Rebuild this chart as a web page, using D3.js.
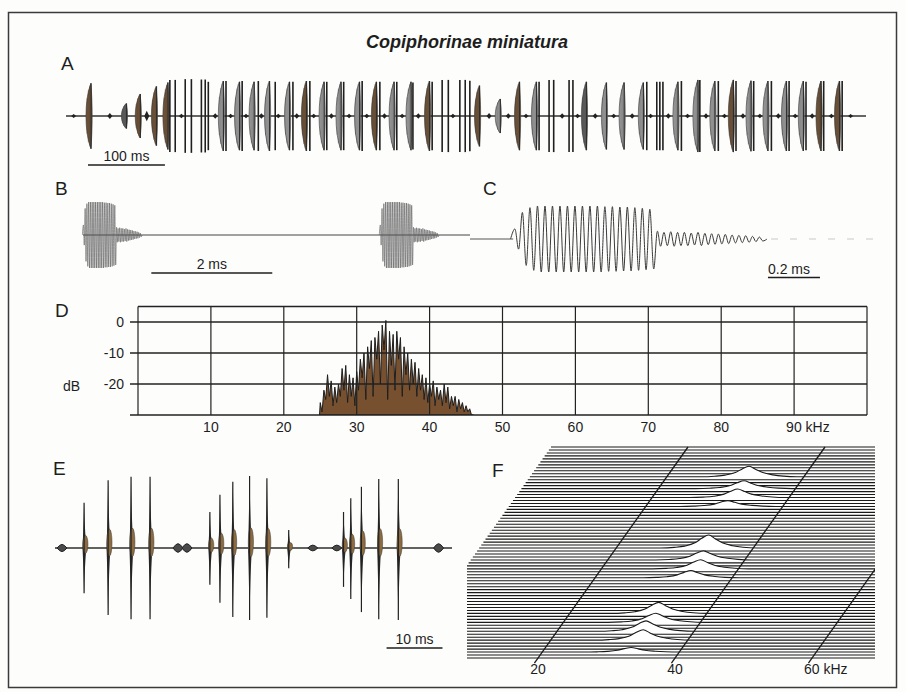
<!DOCTYPE html>
<html>
<head>
<meta charset="utf-8">
<script src="https://cdn.jsdelivr.net/npm/d3@7"></script>
<style>
  body { margin: 0; background: #fff; }
  text { font-family: "Liberation Sans", Arial, Helvetica, sans-serif; fill: #1e1e1e; }
</style>
</head>
<body>
<svg id="fig" width="906" height="692"></svg>
<script>
// ---------- A: song overview (syllables = lens-shaped pulse trains + single pulses), ms ----------
const aLensT   = [31, 77, 95, 116, 131, 203, 224, 243, 263, 289, 311, 334, 356, 380, 402, 425, 447, 471, 536, 563,
                  588, 610, 675, 701, 724, 749, 794, 820, 842, 866, 889, 911, 935, 957, 980, 1004];
const aLensAmp = [0.86, 0.33, 0.58, 0.78, 0.88, 0.92, 0.9, 0.9, 0.92, 0.9, 0.92, 0.9, 0.9, 0.9, 0.9, 0.9, 0.9, 0.92, 0.8, 0.45,
                  0.9, 0.9, 0.9, 0.88, 0.88, 0.88, 0.9, 0.95, 0.92, 0.95, 0.93, 0.92, 0.92, 0.92, 0.92, 0.92];
const aLensTint = ["b","k","b","b","b","g","g","g","g","g","b","g","g","g","b","g","g","b","b","g",
                   "b","g","k","g","g","g","g","g","g","b","g","g","g","g","b","b"];
const aLineT   = [135, 142, 155, 163, 176, 181, 185, 208, 229, 250, 272, 295, 317, 339, 361, 385, 408, 430, 451, 476,
                  489, 497, 512, 519, 525, 615, 628, 634, 654, 659, 755, 768, 772, 776, 800, 824, 848, 871, 894, 917,
                  940, 962, 985, 1009];
const aLineAmp = [0.95, 0.95, 0.97, 0.97, 0.96, 0.96, 0.9, 0.92, 0.92, 0.92, 0.9, 0.9, 0.92, 0.9, 0.9, 0.92, 0.9, 0.9, 0.88, 0.9,
                  0.95, 0.95, 0.95, 0.95, 0.93, 0.9, 0.95, 0.95, 0.95, 0.95, 0.9, 0.9, 0.9, 0.9, 0.92, 0.95, 0.92, 0.92, 0.92, 0.92,
                  0.92, 0.9, 0.92, 0.92];
const aBeadT   = [10, 57, 105, 150, 194, 214, 234, 254, 276, 300, 322, 345, 368, 391, 414, 437, 458, 503, 550, 575,
                  598, 645, 665, 688, 712, 736, 760, 783, 808, 832, 856, 880, 902, 926, 948, 970, 995, 1020];
const aBeadAmp = [0.05, 0.08, 0.14, 0.06, 0.07, 0.06, 0.06, 0.07, 0.06, 0.07, 0.06, 0.07, 0.06, 0.06, 0.07, 0.06, 0.07, 0.06, 0.08, 0.07,
                  0.06, 0.07, 0.06, 0.07, 0.06, 0.07, 0.06, 0.07, 0.06, 0.07, 0.06, 0.07, 0.06, 0.07, 0.06, 0.07, 0.06, 0.05];

// ---------- B / C: single pulse, one amplitude per carrier cycle ----------
const pulseMainAmp = [0.3, 0.8, 0.95, 1, 1, 1, 1, 1, 1, 1, 1, 1, 0.98, 0.98, 0.97, 0.97, 0.95, 0.93, 0.9];
const pulseTailAmp = [0.22, 0.2, 0.22, 0.2, 0.2, 0.18, 0.2, 0.17, 0.16, 0.15, 0.14, 0.12, 0.11, 0.1, 0.08, 0.06];
const mainPeriodMs = 0.0288;
const tailPeriodMs = 0.0262;
const bPulseStartMs = [0, 4.91];
const cPulseStartMs = 0.166;

// ---------- D: amplitude spectrum (dB) ----------
const specKHz  = [25, 25.5, 26, 26.5, 27, 27.5, 28, 28.5, 29, 29.5, 30, 30.5, 31, 31.5, 32, 32.5, 33, 33.5, 34, 34.5,
                  35, 35.5, 36, 36.5, 37, 37.5, 38, 38.5, 39, 39.5, 40, 40.5, 41, 41.5, 42, 42.5, 43, 43.5, 44, 44.5, 45, 45.5];
const specPeakDb  = [-26, -22, -17, -19, -21, -20, -15, -14, -17, -18, -16, -12, -10, -8, -6, -5, -3, -1, 0.5, -3,
                     -4, -3, -5, -8, -10, -12, -13, -15, -17, -18, -20, -19, -21, -22, -20, -21, -24, -24, -25, -26, -27, -28];
const specNotchDb = [-29, -25, -24, -27, -26, -24, -22, -26, -24, -27, -22, -18, -25, -15, -24, -12, -20, -9, -25, -14,
                     -22, -12, -24, -17, -22, -20, -24, -22, -25, -26, -24, -27, -25, -27, -26, -28, -27, -29, -28, -29, -29, -30];
const dTicksKHz = [10, 20, 30, 40, 50, 60, 70, 80, 90];
const dTicksDb  = [0, -10, -20];

// ---------- E: pulse groups (ms, relative amplitude up / down) ----------
const eT    = [5.2, 9.5, 13.6, 17.0, 27.7, 29.5, 31.8, 34.8, 37.9, 41.8, 51.6, 52.9, 54.8, 57.9, 61.4];
const eUp   = [0.63, 0.94, 0.99, 0.99, 0.5, 0.74, 0.92, 1.0, 0.97, 0.25, 0.5, 0.69, 0.85, 0.96, 0.96];
const eDown = [0.63, 0.93, 0.99, 0.99, 0.51, 0.76, 0.96, 1.0, 0.97, 0.28, 0.54, 0.71, 0.89, 0.99, 1.0];
const eBlobT   = [1.25, 22.0, 23.6, 46.1, 50.4, 68.6];
const eBlobAmp = [0.05, 0.06, 0.06, 0.04, 0.04, 0.06];

// ---------- F: waterfall of successive spectra ----------
const fRowCount = 72;
const fRowIdx   = [2, 6, 9, 12, 15, 27, 30, 33, 37, 51, 54, 57, 61];
const fPeakKHz  = [33, 33.5, 33, 33.5, 33, 34, 34.5, 34, 33.5, 32, 32.5, 32.5, 32];
const fPeakAmp  = [0.35, 0.8, 0.8, 0.7, 0.85, 0.55, 0.7, 0.7, 1.0, 0.45, 0.65, 0.6, 0.8];
const sliceOffsetKHz = [-7, -5, -3.5, -2, -1, 0, 1, 2, 3.5, 5, 7];
const sliceLevel     = [0, 0.05, 0.15, 0.4, 0.75, 1, 0.7, 0.4, 0.18, 0.06, 0];
const fTicksKHz = [20, 40, 60];

// =====================================================================
const svg = d3.select("#fig");
const defs = svg.append("defs");
svg.append("rect").attr("width", 906).attr("height", 692).attr("fill", "#fdfdfc");
svg.append("rect").attr("x", 8.5).attr("y", 12.5).attr("width", 888).attr("height", 675)
  .attr("fill", "none").attr("stroke", "#3a3a3a").attr("stroke-width", 1.5);

svg.append("text").attr("x", 467).attr("y", 48).attr("text-anchor", "middle")
  .style("font-size", "18px").style("font-weight", "bold").style("font-style", "italic")
  .text("Copiphorinae miniatura");

const panelLetters = [["A", 61, 70], ["B", 55, 195], ["C", 483, 195], ["D", 55, 317], ["E", 53, 475], ["F", 492, 477]];
panelLetters.forEach(([t, x, y]) => svg.append("text").attr("x", x).attr("y", y).style("font-size", "19px").text(t));

function scaleBar(x1, x2, yBar, label, yText, anchor, xText) {
  svg.append("line").attr("x1", x1).attr("x2", x2).attr("y1", yBar).attr("y2", yBar)
    .attr("stroke", "#1e1e1e").attr("stroke-width", 1.6);
  svg.append("text").attr("x", xText).attr("y", yText).attr("text-anchor", anchor)
    .style("font-size", "14px").text(label);
}

// ---------------- A ----------------
const xA = d3.scaleLinear().domain([0, 1040]).range([66, 866]);
const yA = d3.scaleLinear().domain([-1, 1]).range([154, 78]);
const gA = svg.append("g");
gA.append("line").attr("x1", xA(0)).attr("x2", xA(1040)).attr("y1", yA(0)).attr("y2", yA(0))
  .attr("stroke", "#333").attr("stroke-width", 1.3);
aBeadT.forEach((t, i) => {
  const x = xA(t), y0 = yA(0), h = y0 - yA(aBeadAmp[i]);
  gA.append("path").attr("d", `M${x - 2.5},${y0}L${x},${y0 - h}L${x + 2.5},${y0}L${x},${y0 + h}Z`).attr("fill", "#222");
});
const tintFill = { b: "#7f5d3c", g: "#b3b3b3", k: "#6a6a6a" };
aLensT.forEach((t, i) => {
  const xc = xA(t), y0 = yA(0), top = yA(aLensAmp[i]), bot = yA(-aLensAmp[i]), h = y0 - top;
  const w = xA(t + 4.5) - xA(t);
  const p = d3.path();
  p.moveTo(xc + w * 0.3, top);
  p.bezierCurveTo(xc - w * 1.6, y0 - h * 0.5, xc - w * 1.6, y0 + h * 0.5, xc + w * 0.3, bot);
  p.bezierCurveTo(xc + w * 0.8, y0 + h * 0.4, xc + w * 0.8, y0 - h * 0.4, xc + w * 0.3, top);
  p.closePath();
  gA.append("path").attr("d", p.toString()).attr("fill", tintFill[aLensTint[i]])
    .attr("stroke", "#3a3a3a").attr("stroke-width", 0.6);
  [[-0.8, 0.55], [-0.45, 0.8], [-0.1, 0.93], [0.35, 1.0]].forEach(([dx, f]) => {
    gA.append("line").attr("x1", xc + dx * w).attr("x2", xc + dx * w)
      .attr("y1", y0 - h * f).attr("y2", y0 + h * f)
      .attr("stroke", "#2a2a2a").attr("stroke-width", dx > 0 ? 1.3 : 0.6).attr("stroke-opacity", dx > 0 ? 0.95 : 0.55);
  });
});
aLineT.forEach((t, i) => {
  gA.append("line").attr("x1", xA(t)).attr("x2", xA(t)).attr("y1", yA(aLineAmp[i])).attr("y2", yA(-aLineAmp[i]))
    .attr("stroke", "#1f1f1f").attr("stroke-width", 1.6);
});
scaleBar(xA(28.6), xA(128.6), 165, "100 ms", 161, "middle", (xA(28.6) + xA(128.6)) / 2);

// ---------------- B / C pulse geometry ----------------
function pulsePoints(t0) {
  const pts = [[t0 - 0.01, 0]];
  let t = t0;
  pulseMainAmp.forEach(a => {
    pts.push([t + mainPeriodMs * 0.25, a]); pts.push([t + mainPeriodMs * 0.75, -a]); t += mainPeriodMs;
  });
  pulseTailAmp.forEach(a => {
    pts.push([t + tailPeriodMs * 0.25, a]); pts.push([t + tailPeriodMs * 0.75, -a]); t += tailPeriodMs;
  });
  pts.push([t + 0.01, 0]);
  return pts;
}

// ---------------- B ----------------
const xB = d3.scaleLinear().domain([0, 6.4]).range([83, 470]);
const yB = d3.scaleLinear().domain([-1, 1]).range([268, 202]);
svg.append("line").attr("x1", xB(0)).attr("x2", xB(6.4)).attr("y1", yB(0)).attr("y2", yB(0))
  .attr("stroke", "#444").attr("stroke-width", 1);
const lineB = d3.line().x(d => xB(d[0])).y(d => yB(d[1])).curve(d3.curveCardinal);
bPulseStartMs.forEach(t0 => {
  svg.append("path").attr("d", lineB(pulsePoints(t0))).attr("fill", "none")
    .attr("stroke", "#555").attr("stroke-width", 0.6);
});
scaleBar(xB(1.13), xB(3.13), 273, "2 ms", 269, "middle", (xB(1.13) + xB(3.13)) / 2);

// ---------------- C ----------------
const xC = d3.scaleLinear().domain([0, 1.65]).range([470, 899]);
const yC = d3.scaleLinear().domain([-1, 1]).range([272, 206]);
svg.append("line").attr("x1", xC(0)).attr("x2", xC(cPulseStartMs)).attr("y1", yC(0)).attr("y2", yC(0))
  .attr("stroke", "#555").attr("stroke-width", 1);
const cPts = pulsePoints(cPulseStartMs);
svg.append("path").attr("d", d3.line().x(d => xC(d[0])).y(d => yC(d[1])).curve(d3.curveCardinal)(cPts))
  .attr("fill", "none").attr("stroke", "#3a3a3a").attr("stroke-width", 1);
svg.append("line").attr("x1", xC(cPts[cPts.length - 1][0]) + 4).attr("x2", xC(1.58)).attr("y1", yC(0)).attr("y2", yC(0))
  .attr("stroke", "#dadada").attr("stroke-width", 1.5).attr("stroke-dasharray", "7 12");
svg.append("text").attr("x", xC(1.146)).attr("y", 274).style("font-size", "14px").text("0.2 ms");
svg.append("line").attr("x1", xC(1.146)).attr("x2", xC(1.346)).attr("y1", 277.5).attr("y2", 277.5)
  .attr("stroke", "#1e1e1e").attr("stroke-width", 1.4);

// ---------------- D ----------------
const xD = d3.scaleLinear().domain([0, 100]).range([138, 867]);
const yD = d3.scaleLinear().domain([-30, 5]).range([415, 306.5]);
const gD = svg.append("g");
defs.append("clipPath").attr("id", "clipD").append("rect")
  .attr("x", xD(0)).attr("y", yD(5)).attr("width", xD(100) - xD(0)).attr("height", yD(-30) - yD(5));
const specPts = [[24.9, -30]];
specKHz.forEach((f, i) => { specPts.push([f, specPeakDb[i]]); specPts.push([f + 0.25, specNotchDb[i]]); });
specPts.push([46, -30]);
gD.append("path").attr("clip-path", "url(#clipD)")
  .attr("d", d3.area().x(d => xD(d[0])).y0(yD(-30)).y1(d => yD(d[1]))(specPts))
  .attr("fill", "#77502f").attr("stroke", "#1e1e1e").attr("stroke-width", 1);
// grid
[0, 100].concat(dTicksKHz).forEach(f => gD.append("line").attr("x1", xD(f)).attr("x2", xD(f))
  .attr("y1", yD(5)).attr("y2", yD(-30)).attr("stroke", "#222").attr("stroke-width", 1.2));
gD.append("line").attr("x1", xD(0)).attr("x2", xD(100)).attr("y1", yD(5)).attr("y2", yD(5))
  .attr("stroke", "#222").attr("stroke-width", 1.3);
dTicksDb.concat([-30]).forEach(v => gD.append("line").attr("x1", xD(0) - 8).attr("x2", xD(100))
  .attr("y1", yD(v)).attr("y2", yD(v)).attr("stroke", "#222").attr("stroke-width", 1.3));
dTicksDb.forEach(v => gD.append("text").attr("x", 124).attr("y", yD(v)).attr("dy", "0.36em")
  .attr("text-anchor", "end").style("font-size", "14px").text(v));
dTicksKHz.forEach((f, i) => {
  const last = i === dTicksKHz.length - 1;
  gD.append("text").attr("x", last ? xD(f) - 8 : xD(f)).attr("y", 432)
    .attr("text-anchor", last ? "start" : "middle").style("font-size", "14px").text(last ? f + " kHz" : f);
});
gD.append("text").attr("x", 63).attr("y", 391).style("font-size", "14px").text("dB");

// ---------------- E ----------------
const xE = d3.scaleLinear().domain([0, 71]).range([55, 452]);
const yE = d3.scaleLinear().domain([-1, 1]).range([620, 476]);
const gE = svg.append("g");
gE.append("line").attr("x1", xE(0)).attr("x2", xE(71)).attr("y1", yE(0)).attr("y2", yE(0))
  .attr("stroke", "#2e2e2e").attr("stroke-width", 1.6);
eBlobT.forEach((t, i) => {
  const x = xE(t), y0 = yE(0), h = y0 - yE(eBlobAmp[i]);
  gE.append("path").attr("d", `M${x - 5},${y0}Q${x - 2},${y0 - h} ${x},${y0 - h}Q${x + 2},${y0 - h} ${x + 5},${y0}Q${x + 2},${y0 + h} ${x},${y0 + h}Q${x - 2},${y0 + h} ${x - 5},${y0}Z`)
    .attr("fill", "#4a4a4a").attr("stroke", "#222").attr("stroke-width", 1);
});
eT.forEach((t, i) => {
  const x = xE(t), y0 = yE(0), top = yE(eUp[i]), bot = yE(-eDown[i]);
  const hu = y0 - top, hd = bot - y0;
  const p = d3.path();
  p.moveTo(x, top);
  p.quadraticCurveTo(x + 0.8, y0 - hu * 0.3, x + 2.4, y0);
  p.quadraticCurveTo(x + 0.8, y0 + hd * 0.3, x, bot);
  p.quadraticCurveTo(x - 0.8, y0 + hd * 0.3, x - 1.6, y0);
  p.quadraticCurveTo(x - 0.8, y0 - hu * 0.3, x, top);
  p.closePath();
  gE.append("path").attr("d", p.toString()).attr("fill", "#2b2b2b");
  gE.append("ellipse").attr("cx", x + 1.3).attr("cy", y0 - hu * 0.08).attr("rx", 2.6).attr("ry", Math.max(4, hu * 0.2))
    .attr("fill", "#8c6b40").attr("stroke", "#3a3a3a").attr("stroke-width", 0.5);
  gE.append("line").attr("x1", x).attr("x2", x).attr("y1", top).attr("y2", bot)
    .attr("stroke", "#222").attr("stroke-width", 1.2);
});
scaleBar(xE(59.3), xE(69.3), 648, "10 ms", 644, "middle", (xE(59.3) + xE(69.3)) / 2);

// ---------------- F ----------------
const yRow = d3.scaleLinear().domain([0, fRowCount - 1]).range([658, 447]);
const shiftRow = d3.scaleLinear().domain([0, fRowCount - 1]).range([0, 150]);
const xF = d3.scaleLinear().domain([0, 70]).range([401, 880.5]);
const bumpPx = 13;
defs.append("clipPath").attr("id", "clipF").append("rect")
  .attr("x", 467).attr("y", 430).attr("width", 408).attr("height", 236);
const gF = svg.append("g").attr("clip-path", "url(#clipF)");
const bumps = new Map(fRowIdx.map((r, i) => [r, { f: fPeakKHz[i], a: fPeakAmp[i] }]));
const rowLine = d3.line().curve(d3.curveMonotoneX);
for (let i = fRowCount - 1; i >= 0; i--) {
  const y = yRow(i), s = shiftRow(i);
  const b = bumps.get(i);
  let pts = [[xF(0) + s, y]];
  if (b) {
    const peak = sliceOffsetKHz.map((o, k) => [xF(b.f + o) + s, y - sliceLevel[k] * b.a * bumpPx]);
    gF.append("path")
      .attr("d", d3.area().x(d => d[0]).y0(y + 1.2).y1(d => d[1]).curve(d3.curveMonotoneX)(peak))
      .attr("fill", "#fff");
    pts = pts.concat(peak);
  }
  pts.push([xF(70) + s, y]);
  gF.append("path").attr("d", rowLine(pts)).attr("fill", "none")
    .attr("stroke", "#1a1a1a").attr("stroke-width", 1.1);
}
fTicksKHz.forEach(f => {
  gF.append("line")
    .attr("x1", xF(f) + shiftRow(-1.7)).attr("y1", yRow(-1.7))
    .attr("x2", xF(f) + shiftRow(fRowCount - 1)).attr("y2", yRow(fRowCount - 1))
    .attr("stroke", "#1a1a1a").attr("stroke-width", 1.3);
});
fTicksKHz.forEach((f, i) => {
  const last = i === fTicksKHz.length - 1;
  svg.append("text").attr("x", last ? xF(f) - 8 : xF(f)).attr("y", 674)
    .attr("text-anchor", last ? "start" : "middle").style("font-size", "14px").text(last ? f + " kHz" : f);
});
</script>
</body>
</html>
